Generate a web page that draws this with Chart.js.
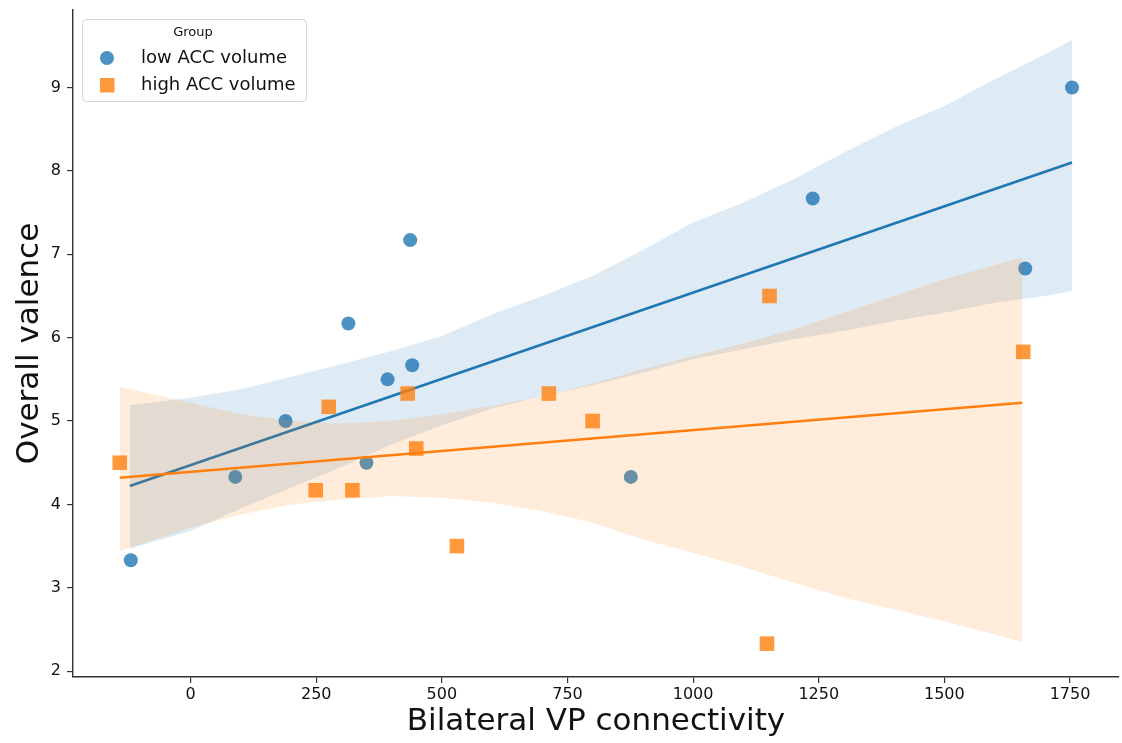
<!DOCTYPE html>
<html>
<head>
<meta charset="utf-8">
<script src="https://cdn.jsdelivr.net/npm/chart.js@4.4.1/dist/chart.umd.min.js"></script>
<style>
  html, body { margin: 0; padding: 0; background: #fff; }
  #wrap { width: 1122px; height: 743px; position: relative; }
</style>
</head>
<body>
<div id="wrap"><canvas id="chart"></canvas></div>
<script>
// points
const lowX = [-119, 89, 189, 314, 350, 392, 437, 441, 876, 1238, 1661, 1754];
const lowY = [3.33, 4.33, 5.0, 6.17, 4.5, 5.5, 7.17, 5.67, 4.33, 7.67, 6.83, 9.0];
const highX = [-141, 249, 275, 322, 432, 449, 530, 713, 800, 1147, 1152, 1657];
const highY = [4.5, 4.17, 5.17, 4.17, 5.33, 4.67, 3.5, 5.33, 5.0, 2.33, 6.5, 5.83];

// fitted lines (end points)
const lowLineX = [-121, 1754];
const lowLineY = [4.22, 8.10];
const highLineX = [-141, 1655];
const highLineY = [4.32, 5.22];

// confidence bands
const lowBandX = [-121, 0, 100, 200, 300, 400, 500, 600, 700, 800, 900, 1000, 1100, 1200, 1300, 1400, 1500, 1600, 1700, 1754];
const lowBandLo = [3.47, 3.68, 3.95, 4.2, 4.45, 4.72, 4.95, 5.15, 5.3, 5.43, 5.58, 5.74, 5.86, 5.98, 6.08, 6.2, 6.3, 6.42, 6.5, 6.56];
const lowBandHi = [5.19, 5.28, 5.38, 5.53, 5.68, 5.84, 6.02, 6.28, 6.5, 6.74, 7.05, 7.38, 7.62, 7.9, 8.22, 8.52, 8.78, 9.1, 9.4, 9.57];
const highBandX = [-141, 0, 100, 200, 300, 400, 500, 600, 700, 800, 900, 1000, 1100, 1200, 1300, 1400, 1500, 1600, 1655];
const highBandLo = [3.44, 3.72, 3.88, 4.0, 4.06, 4.1, 4.08, 4.02, 3.92, 3.78, 3.58, 3.42, 3.25, 3.06, 2.88, 2.74, 2.6, 2.44, 2.35];
const highBandHi = [5.41, 5.22, 5.08, 5.0, 4.97, 5.0, 5.08, 5.18, 5.3, 5.45, 5.62, 5.78, 5.93, 6.1, 6.3, 6.5, 6.7, 6.87, 6.96];

const xTicks = [0, 250, 500, 750, 1000, 1250, 1500, 1750];
const yTicks = [2, 3, 4, 5, 6, 7, 8, 9];

const groupNames = ['low ACC volume', 'high ACC volume'];

const BLUE = '#1f77b4';
const ORANGE = '#ff7f0e';
const FONT = "'DejaVu Sans', sans-serif";

const pts = (xs, ys) => xs.map((x, i) => ({ x: x, y: ys[i] }));

function band(xs, lo, hi, fillColor, order) {
    return [
        { data: pts(xs, lo), showLine: true, pointRadius: 0, borderColor: 'transparent', borderWidth: 0, fill: false, order: order },
        { data: pts(xs, hi), showLine: true, pointRadius: 0, borderColor: 'transparent', borderWidth: 0, fill: '-1', backgroundColor: fillColor, order: order },
    ];
}

// legend drawn inside the plot, like matplotlib
const insideLegend = {
    id: 'insideLegend',
    afterDraw(chart) {
        const ctx = chart.ctx;
        ctx.save();
        const bx = 82, by = 19, bw = 224, bh = 82;
        ctx.beginPath();
        ctx.roundRect(bx + 0.5, by + 0.5, bw, bh, 4);
        ctx.fillStyle = 'rgba(255,255,255,0.8)';
        ctx.fill();
        ctx.strokeStyle = '#d6d6d6';
        ctx.lineWidth = 1;
        ctx.stroke();

        ctx.fillStyle = '#111';
        ctx.textBaseline = 'middle';
        ctx.textAlign = 'center';
        ctx.font = '13px ' + FONT;
        ctx.fillText('Group', 193, 33);

        ctx.textAlign = 'left';
        ctx.font = '18px ' + FONT;
        ctx.fillStyle = 'rgba(31,119,180,0.8)';
        ctx.beginPath();
        ctx.arc(107, 58, 7, 0, Math.PI * 2);
        ctx.fill();
        ctx.fillStyle = 'rgba(255,127,14,0.8)';
        ctx.fillRect(100, 78, 14.5, 14.5);

        ctx.fillStyle = '#111';
        ctx.fillText(groupNames[0], 141, 58);
        ctx.fillText(groupNames[1], 141, 85);
        ctx.restore();
    },
};

new Chart(document.getElementById('chart'), {
    type: 'scatter',
    data: {
        datasets: [
            ...band(lowBandX, lowBandLo, lowBandHi, 'rgba(31,119,180,0.15)', 10),
            { data: pts(lowLineX, lowLineY), showLine: true, pointRadius: 0, borderColor: BLUE, borderWidth: 2.6, order: 9 },
            { label: groupNames[0], data: pts(lowX, lowY), pointStyle: 'circle', pointRadius: 7, borderWidth: 0,
              backgroundColor: 'rgba(31,119,180,0.8)', order: 8 },
            ...band(highBandX, highBandLo, highBandHi, 'rgba(255,127,14,0.15)', 7),
            { data: pts(highLineX, highLineY), showLine: true, pointRadius: 0, borderColor: ORANGE, borderWidth: 2.6, order: 6 },
            { label: groupNames[1], data: pts(highX, highY), pointStyle: 'rect', pointRadius: 10.3, borderWidth: 0,
              backgroundColor: 'rgba(255,127,14,0.8)', order: 5 },
        ],
    },
    options: {
        responsive: true,
        maintainAspectRatio: false,
        animation: false,
        layout: { autoPadding: false, padding: { top: 10, right: 3, left: 0, bottom: 0 } },
        plugins: {
            legend: { display: false },
            tooltip: { enabled: false },
        },
        scales: {
            x: {
                type: 'linear',
                min: -234,
                max: 1847.5,
                afterBuildTicks: (scale) => { scale.ticks = xTicks.map(v => ({ value: v })); },
                afterFit: (scale) => {
                    scale.height = 66;
                    scale.paddingLeft = 0;
                    scale.paddingRight = 0;
                },
                grid: { drawOnChartArea: false, drawTicks: true, tickLength: 6, color: '#333', lineWidth: 1.2 },
                border: { display: true, color: '#333', width: 1.4 },
                ticks: { color: '#111', padding: 2, font: { family: FONT, size: 16 }, maxRotation: 0,
                         callback: (v) => String(v) },
                title: { display: true, text: 'Bilateral VP connectivity', color: '#111',
                         font: { family: FONT, size: 31 }, padding: { top: 0, bottom: 2 } },
            },
            y: {
                type: 'linear',
                min: 1.93,
                max: 9.93,
                afterBuildTicks: (scale) => { scale.ticks = yTicks.map(v => ({ value: v })); },
                afterFit: (scale) => {
                    scale.width = 73;
                    scale.paddingTop = 0;
                    scale.paddingBottom = 0;
                },
                grid: { drawOnChartArea: false, drawTicks: true, tickLength: 6, color: '#333', lineWidth: 1.2 },
                border: { display: true, color: '#333', width: 1.4 },
                ticks: { color: '#111', padding: 6, font: { family: FONT, size: 16 }, callback: (v) => String(v) },
                title: { display: true, text: 'Overall valence', color: '#111',
                         font: { family: FONT, size: 31 }, padding: { top: 11, bottom: 0 } },
            },
        },
    },
    plugins: [insideLegend],
});
</script>
</body>
</html>
